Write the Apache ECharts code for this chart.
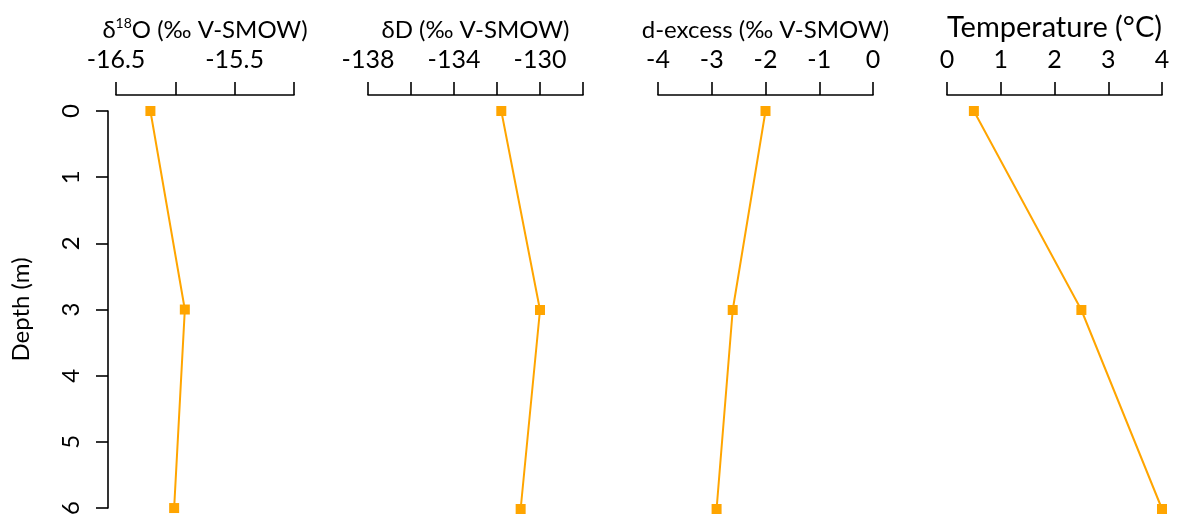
<!DOCTYPE html>
<html>
<head>
<meta charset="utf-8">
<script src="https://cdn.jsdelivr.net/npm/echarts@6/dist/echarts.min.js"></script>
<style>
  html, body { margin: 0; padding: 0; background: #ffffff; }
  #chart { width: 1177px; height: 518px; }
</style>
</head>
<body>
<div id="chart"></div>
<script>
// Sampling depths (m)
const depth = [0, 3, 6];
// Profile values at each depth
const d18O = [-16.21, -15.92, -16.01];
const dD = [-131.8, -130.0, -130.9];
const dExcess = [-2.0, -2.61, -2.91];
const temperature = [0.5, 2.5, 4.0];
// Labelled ticks on each horizontal axis
const d18OTickLabels = [-16.5, -15.5];
const dDTickLabels = [-138, -134, -130];
const dExcessTickLabels = [-4, -3, -2, -1, 0];
const temperatureTickLabels = [0, 1, 2, 3, 4];
// Depth axis ticks
const depthTicks = [0, 1, 2, 3, 4, 5, 6];

const FONT = 'Lato';
const INK = '#000000';
const ORANGE = '#FFA500';

const panels = [
  { name: '{a|δ}{sup|18}{a|O (‰ V-SMOW)}', values: d18O, labels: d18OTickLabels, min: -16.5, max: -15.0, interval: 0.5, left: 116, width: 178 },
  { name: '{a|δD (‰ V-SMOW)}', values: dD, labels: dDTickLabels, min: -138, max: -128, interval: 2, left: 368, width: 215 },
  { name: '{a|d-excess (‰ V-SMOW)}', values: dExcess, labels: dExcessTickLabels, min: -4, max: 0, interval: 1, left: 658, width: 215 },
  { name: '{b|Temperature (°C)}', values: temperature, labels: temperatureTickLabels, min: 0, max: 4, interval: 1, left: 947, width: 215 }
];

const GRID_TOP = 111;
const GRID_H = 398;

const grid = panels.map(p => ({ left: p.left, width: p.width, top: GRID_TOP, height: GRID_H }));

const isLabelled = (list, v) => list.some(t => Math.abs(t - v) < 1e-9);

const xAxis = panels.map((p, i) => ({
  type: 'value',
  gridIndex: i,
  position: 'top',
  offset: 16,
  min: p.min,
  max: p.max,
  interval: p.interval,
  name: p.name,
  nameLocation: 'middle',
  nameGap: 51,
  nameTextStyle: {
    color: INK,
    fontFamily: FONT,
    rich: {
      a: { fontSize: 24, fontFamily: FONT, color: INK, lineHeight: 28 },
      b: { fontSize: 29, fontFamily: FONT, color: INK, lineHeight: 33 },
      sup: { fontSize: 14, fontFamily: FONT, color: INK, lineHeight: 14, verticalAlign: 'top' }
    }
  },
  axisLine: { show: true, onZero: false, lineStyle: { color: INK, width: 1.6 } },
  axisTick: { show: true, inside: false, length: 13, lineStyle: { color: INK, width: 1.6 } },
  axisLabel: {
    show: true,
    hideOverlap: false,
    margin: 23,
    color: INK,
    fontFamily: FONT,
    fontSize: 25,
    showMinLabel: true,
    showMaxLabel: true,
    formatter: v => isLabelled(p.labels, v) ? String(v) : ''
  },
  splitLine: { show: false }
}));

const yAxis = panels.map((p, i) => ({
  type: 'value',
  gridIndex: i,
  inverse: true,
  min: 0,
  max: 6,
  interval: 1,
  show: i === 0,
  position: 'left',
  offset: 8,
  name: i === 0 ? 'Depth (m)' : '',
  nameLocation: 'middle',
  nameGap: 75,
  nameTextStyle: { color: INK, fontFamily: FONT, fontSize: 24 },
  axisLine: { show: true, onZero: false, lineStyle: { color: INK, width: 1.6 } },
  axisTick: { show: true, inside: false, length: 12, lineStyle: { color: INK, width: 1.6 } },
  axisLabel: {
    show: true,
    rotate: 90,
    margin: 25,
    color: INK,
    fontFamily: FONT,
    fontSize: 24,
    formatter: v => depthTicks.includes(v) ? String(v) : ''
  },
  splitLine: { show: false }
}));

const series = panels.map((p, i) => ({
  type: 'line',
  xAxisIndex: i,
  yAxisIndex: i,
  data: p.values.map((v, k) => [v, depth[k]]),
  symbol: 'rect',
  symbolSize: 10,
  showSymbol: true,
  clip: false,
  lineStyle: { color: ORANGE, width: 2 },
  itemStyle: { color: ORANGE },
  emphasis: { disabled: true },
  animation: false
}));

const chart = echarts.init(document.getElementById('chart'), null, { renderer: 'canvas' });
chart.setOption({
  backgroundColor: '#ffffff',
  animation: false,
  textStyle: { fontFamily: FONT },
  grid,
  xAxis,
  yAxis,
  series
});
</script>
</body>
</html>
